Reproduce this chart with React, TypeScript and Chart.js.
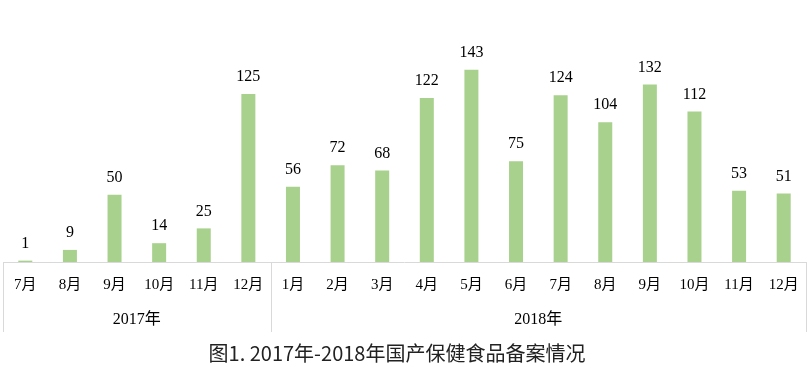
import React, { useEffect, useRef } from "react";
import { Chart, registerables } from "chart.js";

Chart.register(...registerables);

const months = ["7月", "8月", "9月", "10月", "11月", "12月", "1月", "2月", "3月", "4月", "5月", "6月", "7月", "8月", "9月", "10月", "11月", "12月"];
const values = [1, 9, 50, 14, 25, 125, 56, 72, 68, 122, 143, 75, 124, 104, 132, 112, 53, 51];
const years = ["2017年", "2018年"];
const yearSpans = [6, 12];
const titleText = "图1. 2017年-2018年国产保健食品备案情况";

const BAR = "#a9d18e";
const LINE = "#d9d9d9";
const SERIF = '"Liberation Serif", "Noto Sans CJK SC", serif';

const overlay = {
  id: "overlay",
  afterDatasetsDraw(chart: any) {
    const ctx = chart.ctx;
    const x = chart.scales.x;
    const y = chart.scales.y;
    const area = chart.chartArea;
    const axisY = y.getPixelForValue(0);
    ctx.save();
    // data labels
    ctx.fillStyle = "#000";
    ctx.font = "16px " + SERIF;
    ctx.textAlign = "center";
    ctx.textBaseline = "middle";
    values.forEach((v, i) => {
      ctx.fillText(String(v), x.getPixelForValue(i), y.getPixelForValue(v) - 17);
    });
    // axis line
    ctx.strokeStyle = LINE;
    ctx.lineWidth = 1;
    ctx.beginPath();
    ctx.moveTo(area.left, Math.round(axisY) + 0.5);
    ctx.lineTo(area.right, Math.round(axisY) + 0.5);
    ctx.stroke();
    // separators
    const step = (area.right - area.left) / months.length;
    const bounds = [area.left];
    let acc = 0;
    yearSpans.forEach((s) => {
      acc += s;
      bounds.push(area.left + acc * step);
    });
    bounds.forEach((bx) => {
      ctx.beginPath();
      ctx.moveTo(Math.round(bx) + 0.5, axisY);
      ctx.lineTo(Math.round(bx) + 0.5, axisY + 70);
      ctx.stroke();
    });
    // month labels
    ctx.font = "15px " + SERIF;
    months.forEach((m, i) => {
      ctx.fillText(m, x.getPixelForValue(i), axisY + 23);
    });
    // year labels
    ctx.font = "16px " + SERIF;
    years.forEach((yr, i) => {
      ctx.fillText(yr, (bounds[i] + bounds[i + 1]) / 2, axisY + 58);
    });
    // title
    ctx.fillStyle = "#222";
    ctx.font = '20px "Noto Sans CJK SC", "Liberation Serif", serif';
    ctx.fillText(titleText, 397, axisY + 91);
    ctx.restore();
  },
};

export default function App() {
  const ref = useRef<HTMLCanvasElement>(null);
  useEffect(() => {
    const chart = new Chart(ref.current!, {
      type: "bar",
      data: {
        labels: months,
        datasets: [{ data: values, backgroundColor: BAR, barPercentage: 0.314, categoryPercentage: 1 }],
      },
      options: {
        responsive: false,
        animation: false,
        layout: { padding: { left: 3, right: 4, top: 20, bottom: 0 } },
        plugins: { legend: { display: false }, tooltip: { enabled: false }, title: { display: false } },
        scales: {
          x: {
            ticks: { display: false },
            grid: { display: false },
            border: { display: false },
            afterFit: (s: any) => {
              s.height = 122;
            },
          },
          y: { display: false, min: 0, max: 180 },
        },
      },
      plugins: [overlay],
    });
    return () => chart.destroy();
  }, []);
  return (
    <div style={{ position: "absolute", left: 0, top: 0, width: 810, height: 384, background: "#fff" }}>
      <canvas ref={ref} width={810} height={384} />
    </div>
  );
}
